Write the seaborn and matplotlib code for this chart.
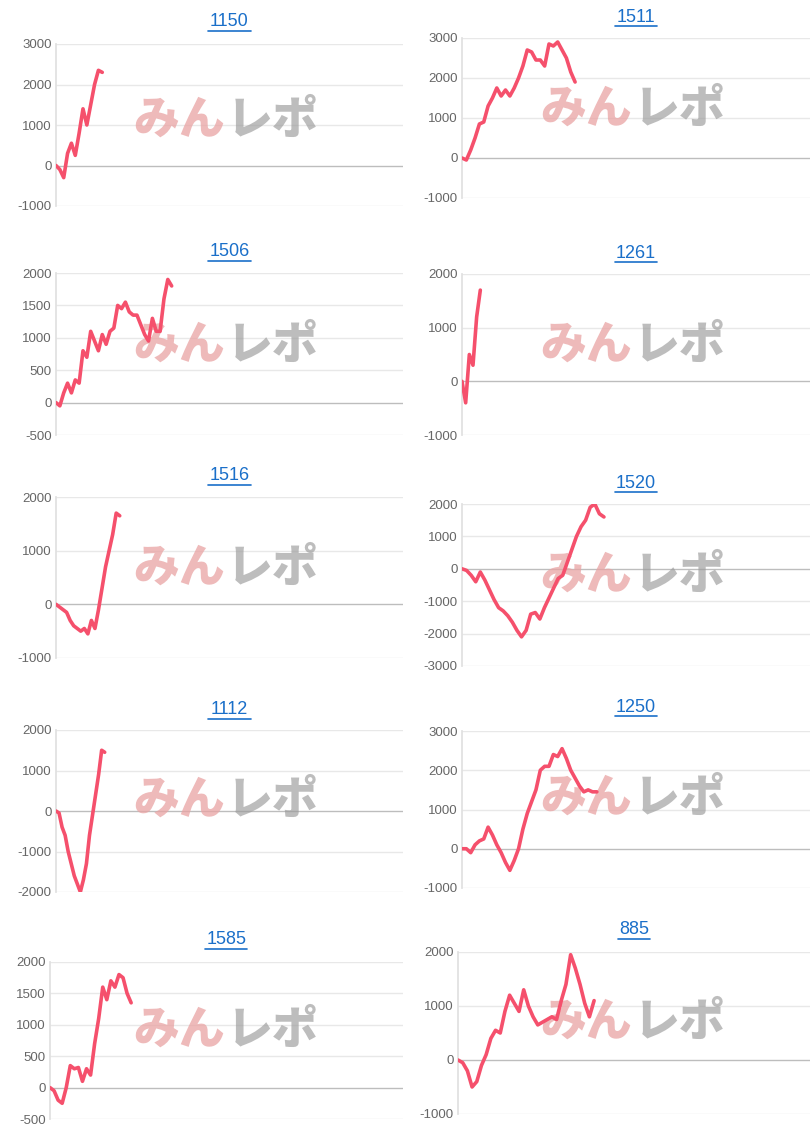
import matplotlib
matplotlib.use("Agg")
import matplotlib.pyplot as plt
import seaborn as sns
import numpy as np

sns.set_theme(style="white")
plt.rcParams['font.family'] = ['Liberation Sans', 'Noto Sans CJK JP', 'DejaVu Sans']

titles = ["1150", "1511", "1506", "1261", "1516", "1520", "1112", "1250", "1585", "885"]

s1150 = [0, -100, -300, 300, 550, 250, 800, 1400, 1000, 1500, 2000, 2350, 2300]
s1511 = [0, -50, 200, 500, 850, 900, 1300, 1500, 1750, 1550, 1700, 1550, 1750, 2000, 2300,
         2700, 2650, 2450, 2450, 2300, 2850, 2800, 2900, 2700, 2500, 2150, 1900]
s1506 = [0, -50, 150, 300, 150, 350, 300, 800, 700, 1100, 950, 800, 1050, 900, 1100, 1150,
         1500, 1450, 1550, 1400, 1350, 1350, 1200, 1050, 950, 1300, 1100, 1100, 1600, 1900, 1800]
s1261 = [0, -400, 500, 300, 1200, 1700]
s1516 = [0, -50, -100, -150, -300, -400, -450, -500, -450, -550, -300, -450, -100, 300, 700,
         1000, 1300, 1700, 1650]
s1520 = [0, -50, -200, -400, -100, -350, -650, -950, -1200, -1300, -1450, -1650, -1900, -2100,
         -1900, -1400, -1350, -1550, -1200, -900, -600, -300, -200, 200, 600, 1000, 1300, 1500,
         1900, 2000, 1700, 1600]
s1112 = [0, -50, -400, -600, -1000, -1300, -1600, -1800, -2000, -1700, -1300, -600, -100, 400,
         900, 1500, 1450]
s1250 = [0, 0, -100, 100, 200, 250, 550, 350, 100, -100, -350, -550, -300, 0, 500, 900, 1200,
         1500, 2000, 2100, 2100, 2400, 2350, 2550, 2300, 2000, 1800, 1600, 1450, 1500, 1450, 1450]
s1585 = [0, -50, -200, -250, 0, 350, 300, 320, 100, 300, 200, 700, 1100, 1600, 1400, 1700,
         1600, 1800, 1750, 1500, 1350]
s885 = [0, -50, -200, -500, -400, -100, 100, 400, 550, 500, 900, 1200, 1050, 900, 1300, 1000,
        800, 650, 700, 750, 800, 750, 1100, 1400, 1950, 1700, 1400, 1050, 800, 1100]
series = [s1150, s1511, s1506, s1261, s1516, s1520, s1112, s1250, s1585, s885]

slots = [91, 81, 91, 96, 99, 77, 115, 81, 88, 76]
ylims = [(-1000, 3000), (-1000, 3000), (-500, 2000), (-1000, 2000), (-1000, 2000),
         (-3000, 2000), (-2000, 2000), (-1000, 3000), (-500, 2000), (-1000, 2000)]
ysteps = [1000, 1000, 500, 1000, 1000, 1000, 1000, 1000, 500, 1000]

boxes = [(56, 403, 44, 206, 22), (462, 810, 38, 198, 17),
         (56, 403, 273, 435, 252), (462, 810, 274, 435, 253),
         (56, 403, 497, 658, 476), (462, 810, 504, 666, 483),
         (56, 403, 730, 892, 710), (462, 810, 731, 888, 707),
         (50, 403, 962, 1119, 940), (458, 810, 952, 1114, 930)]
wm_y = [120, 109, 345, 345, 568, 575, 800, 798, 1030, 1022]

W, H = 812, 1136
fig = plt.figure(figsize=(W / 100, H / 100), dpi=100)
fig.patch.set_facecolor("white")

for i in range(10):
    l, r, t, b, ty = boxes[i]
    ax = fig.add_axes([l / W, 1 - b / H, (r - l) / W, (b - t) / H])
    ax.set_facecolor("none")
    y = series[i]
    x = np.arange(len(y))
    lo, hi = ylims[i]
    ticks = np.arange(lo, hi + 1, ysteps[i])
    for tk in ticks:
        ax.axhline(tk, color="#bdbdbd" if tk == 0 else "#e8e8e8", lw=1, zorder=0)
    wx = 228 if i % 2 == 0 else 635
    ax.text((wx - 3) / W, 1 - wm_y[i] / H, "みん", ha="right", va="center",
            color="#e9a3a3", alpha=0.75, fontsize=33, fontweight="heavy",
            family=["Noto Sans CJK JP"], zorder=1, transform=fig.transFigure)
    ax.text((wx - 1) / W, 1 - wm_y[i] / H, "レポ", ha="left", va="center",
            color="#9a9a9a", alpha=0.65, fontsize=33, fontweight="heavy",
            family=["Noto Sans CJK JP"], zorder=1, transform=fig.transFigure)
    sns.lineplot(x=x, y=y, ax=ax, color="#f5506c", lw=2.6, zorder=3)
    ax.set_xlim(0, slots[i] - 1)
    ax.set_ylim(lo, hi)
    ax.set_yticks(ticks)
    ax.set_yticklabels([str(int(v)) for v in ticks], color="#666666", fontsize=9.5)
    ax.set_xticks([])
    ax.tick_params(axis="y", length=0, pad=3)
    for s in ["top", "right", "bottom"]:
        ax.spines[s].set_visible(False)
    ax.spines["left"].set_color("#e0e0e0")
    ax.set_xlabel("")
    ax.set_ylabel("")
    cx = (l + r) / 2
    fig.text(cx / W, 1 - ty / H, titles[i], ha="center", va="center", color="#1a6fc9",
             fontsize=13)
    tw = len(titles[i]) * 10.5
    fig.add_artist(plt.Line2D([(cx - tw / 2) / W, (cx + tw / 2) / W],
                              [1 - (ty + 9) / H] * 2, color="#1a6fc9", lw=1.2))

fig.savefig("out.png", dpi=100, facecolor="white")
